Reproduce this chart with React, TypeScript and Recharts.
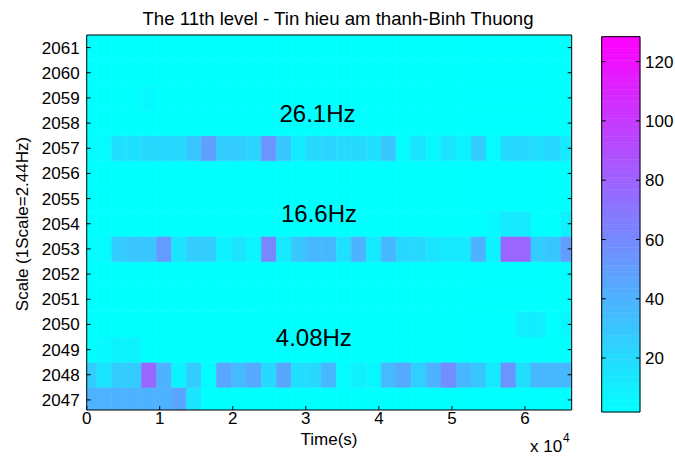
import React from 'react';
import { ComposedChart, XAxis, YAxis, ReferenceArea, ReferenceDot } from 'recharts';

const FONT = "'Liberation Sans', Arial, Helvetica, sans-serif";

// axes
const SCALES = [2047, 2048, 2049, 2050, 2051, 2052, 2053, 2054, 2055, 2056, 2057, 2058, 2059, 2060, 2061];
const X_TICKS = [0, 10000, 20000, 30000, 40000, 50000, 60000];
const C_TICKS = [20, 40, 60, 80, 100, 120];
const C_MIN = 1.8;
const C_MAX = 128.4;
const C_LEVELS = 64;
const X_MAX = 66400;
const FIRST_COL_END = 1370;
const COL_W = 2050;

// magnitude per scale row (33 time columns each)
const row2047 = [40, 40, 40, 40, 40, 40, 46, 15, 2, 2, 2, 2, 2, 2, 2, 2, 2, 2, 2, 2, 2, 2, 2, 2, 2, 2, 2, 2, 2, 2, 2, 2, 2];
const row2048 = [27, 15, 27, 27, 78, 40, 8, 27, 4, 46, 36, 44, 21, 46, 17, 21, 37, 4, 9, 6, 36, 44, 25, 40, 59, 37, 30, 12, 55, 18, 37, 37, 37];
const row2049 = [2, 5, 8, 8, 2, 2, 2, 2, 2, 2, 2, 2, 2, 2, 2, 2, 2, 2, 2, 2, 2, 2, 2, 2, 2, 2, 2, 2, 2, 2, 2, 2, 2];
const row2050 = [2, 2, 2, 2, 2, 2, 2, 2, 2, 2, 2, 2, 2, 2, 2, 2, 2, 2, 2, 2, 2, 2, 2, 2, 2, 2, 2, 2, 2, 10, 10, 2, 6];
const row2051 = [2, 2, 2, 2, 2, 2, 2, 2, 2, 2, 2, 2, 2, 2, 2, 2, 2, 2, 2, 2, 2, 2, 2, 2, 2, 2, 2, 2, 2, 2, 2, 2, 2];
const row2052 = [2, 2, 2, 2, 2, 2, 2, 2, 2, 2, 2, 2, 2, 2, 2, 2, 2, 2, 2, 2, 2, 2, 2, 2, 2, 2, 2, 2, 2, 2, 2, 2, 3];
const row2053 = [4, 4, 27, 30, 30, 52, 15, 27, 27, 8, 15, 7, 61, 12, 30, 37, 37, 17, 40, 12, 37, 21, 21, 15, 12, 12, 40, 8, 78, 78, 27, 30, 50];
const row2054 = [2, 2, 2, 2, 2, 2, 2, 2, 2, 2, 2, 2, 2, 2, 2, 2, 2, 2, 2, 2, 2, 2, 2, 2, 2, 2, 2, 5, 12, 12, 2, 2, 9];
const row2055 = [2, 2, 2, 2, 2, 2, 2, 2, 2, 2, 2, 2, 2, 2, 2, 2, 2, 2, 2, 2, 2, 2, 2, 2, 2, 2, 2, 2, 2, 2, 2, 2, 2];
const row2056 = [2, 2, 2, 2, 2, 2, 2, 2, 2, 2, 2, 2, 2, 2, 2, 2, 2, 2, 2, 2, 2, 2, 2, 2, 2, 2, 2, 2, 2, 2, 2, 2, 2];
const row2057 = [4, 4, 17, 17, 21, 21, 21, 30, 49, 27, 27, 23, 55, 30, 11, 21, 23, 21, 21, 17, 30, 4, 15, 6, 15, 8, 27, 4, 21, 21, 18, 21, 12];
const row2058 = [2, 2, 2, 2, 2, 2, 2, 2, 2, 2, 2, 2, 2, 2, 2, 2, 2, 2, 2, 2, 2, 2, 2, 2, 2, 2, 2, 2, 2, 2, 2, 2, 2];
const row2059 = [2, 2, 2, 2, 5, 2, 2, 2, 2, 2, 2, 2, 2, 2, 2, 2, 2, 2, 2, 2, 2, 2, 2, 2, 2, 2, 2, 2, 2, 2, 2, 2, 2];
const row2060 = [2, 2, 2, 2, 2, 2, 2, 2, 2, 2, 2, 2, 2, 2, 2, 2, 2, 2, 2, 2, 2, 2, 2, 2, 2, 2, 2, 2, 2, 2, 2, 2, 2];
const row2061 = [2, 2, 2, 2, 2, 2, 2, 2, 2, 2, 2, 2, 2, 2, 2, 2, 2, 2, 2, 2, 2, 2, 2, 2, 2, 2, 2, 2, 2, 2, 2, 2, 2];

const ROWS = [row2047, row2048, row2049, row2050, row2051, row2052, row2053, row2054, row2055, row2056, row2057, row2058, row2059, row2060, row2061];

// annotations
const NOTES = [
  { label: '26.1Hz', x: 31600, y: 2058.4 },
  { label: '16.6Hz', x: 31800, y: 2054.4 },
  { label: '4.08Hz', x: 31100, y: 2049.5 },
];

const cool = (v: number) => {
  const t = Math.max(0, Math.min(1, (v - C_MIN) / (C_MAX - C_MIN)));
  return `rgb(${Math.round(255 * t)},${Math.round(255 * (1 - t))},255)`;
};

const colStart = (j: number) => (j === 0 ? 0 : FIRST_COL_END + (j - 1) * COL_W);
const colEnd = (j: number) => Math.min(X_MAX, FIRST_COL_END + j * COL_W);

const cells: { x1: number; x2: number; y1: number; y2: number; fill: string; key: string }[] = [];
ROWS.forEach((row, i) => {
  const s = SCALES[i];
  row.forEach((v, j) => {
    cells.push({ x1: colStart(j), x2: colEnd(j), y1: s - 0.5, y2: s + 0.5, fill: cool(v), key: `${s}-${j}` });
  });
});

// colormap bands for the colorbar
const bands: { y1: number; y2: number; fill: string; key: string }[] = [];
for (let k = 0; k < C_LEVELS; k++) {
  const lo = C_MIN + ((C_MAX - C_MIN) * k) / C_LEVELS;
  const hi = C_MIN + ((C_MAX - C_MIN) * (k + 1)) / C_LEVELS;
  bands.push({ y1: lo, y2: hi, fill: cool((lo + hi) / 2), key: `b${k}` });
}

const tickStyle = { fontSize: 17, fill: '#000', fontFamily: FONT };
const axisLine = { stroke: '#000', strokeWidth: 1 };
const tickLine = { stroke: '#000', strokeWidth: 1 };

const abs: React.CSSProperties = { position: 'absolute', left: 0, top: 0 };

export default function App() {
  return (
    <div style={{ position: 'absolute', left: 0, top: 0, width: 675, height: 466, background: '#fff', fontFamily: FONT }}>
      <div style={abs}>
        <ComposedChart id="mainmap" width={675} height={466} margin={{ top: 34, right: 102.3, bottom: 26, left: 16.7 }} data={[]}>
          {cells.map((c) => (
            <ReferenceArea
              key={c.key}
              xAxisId="b"
              yAxisId="l"
              x1={c.x1}
              x2={c.x2}
              y1={c.y1}
              y2={c.y2}
              fill={c.fill}
              fillOpacity={1}
              stroke={c.fill}
              strokeWidth={0.6}
              ifOverflow="hidden"
            />
          ))}
          {NOTES.map((n) => (
            <ReferenceDot
              key={n.label}
              xAxisId="b"
              yAxisId="l"
              x={n.x}
              y={n.y}
              r={0}
              fill="none"
              stroke="none"
              label={{ value: n.label, position: 'center', fontSize: 24, fill: '#000', fontFamily: FONT }}
            />
          ))}
          <XAxis
            xAxisId="b"
            type="number"
            dataKey="x"
            domain={[0, X_MAX]}
            ticks={X_TICKS}
            interval={0}
            allowDataOverflow
            tickFormatter={(v: number) => String(v / 10000)}
            tick={tickStyle}
            tickSize={-4}
            tickMargin={6}
            axisLine={axisLine}
            tickLine={tickLine}
            height={30}
          />
          <XAxis
            xAxisId="t"
            orientation="top"
            type="number"
            domain={[0, X_MAX]}
            ticks={X_TICKS}
            interval={0}
            allowDataOverflow
            tickFormatter={() => ''}
            tickSize={-4}
            axisLine={axisLine}
            tickLine={tickLine}
            height={1}
          />
          <YAxis
            yAxisId="l"
            type="number"
            dataKey="y"
            domain={[2046.6, 2061.5]}
            ticks={SCALES}
            interval={0}
            allowDataOverflow
            tick={tickStyle}
            tickSize={-4}
            tickMargin={11}
            axisLine={axisLine}
            tickLine={tickLine}
            width={70}
          />
          <YAxis
            yAxisId="r"
            orientation="right"
            type="number"
            domain={[2046.6, 2061.5]}
            ticks={SCALES}
            interval={0}
            allowDataOverflow
            tickFormatter={() => ''}
            tickSize={-4}
            axisLine={axisLine}
            tickLine={tickLine}
            width={1}
          />
        </ComposedChart>
      </div>
      <div style={abs}>
        <ComposedChart id="colorbar" width={675} height={466} margin={{ top: 35.7, right: 0, bottom: 53, left: 600.7 }} data={[]}>
          {bands.map((b) => (
            <ReferenceArea
              key={b.key}
              xAxisId="c"
              yAxisId="cr"
              x1={0}
              x2={1}
              y1={b.y1}
              y2={b.y2}
              fill={b.fill}
              fillOpacity={1}
              stroke={b.fill}
              strokeWidth={0.6}
              ifOverflow="visible"
            />
          ))}
          <XAxis
            xAxisId="c"
            type="number"
            dataKey="x"
            domain={[0, 1]}
            allowDataOverflow
            tick={false}
            axisLine={{ stroke: '#000', strokeWidth: 1 }}
            tickLine={false}
            height={1}
          />
          <XAxis
            xAxisId="ct"
            orientation="top"
            type="number"
            domain={[0, 1]}
            allowDataOverflow
            tick={false}
            axisLine={{ stroke: '#000', strokeWidth: 1 }}
            tickLine={false}
            height={1}
          />
          <YAxis
            yAxisId="cr"
            orientation="right"
            type="number"
            dataKey="y"
            domain={[C_MIN, C_MAX]}
            ticks={C_TICKS}
            interval={0}
            allowDataOverflow
            tick={tickStyle}
            tickSize={-4}
            tickMargin={9}
            axisLine={axisLine}
            tickLine={tickLine}
            width={35}
          />
          <YAxis
            yAxisId="cl"
            orientation="left"
            type="number"
            domain={[C_MIN, C_MAX]}
            ticks={C_TICKS}
            interval={0}
            allowDataOverflow
            tickFormatter={() => ''}
            tickSize={-4}
            axisLine={axisLine}
            tickLine={tickLine}
            width={1}
          />
        </ComposedChart>
      </div>
      <svg width={675} height={466} style={{ ...abs, pointerEvents: 'none' }}>
        <text x={338} y={25} textAnchor="middle" fontSize={18.6} fontFamily={FONT} fill="#000">
          The 11th level - Tin hieu am thanh-Binh Thuong
        </text>
        <text x={329} y={445} textAnchor="middle" fontSize={17} fontFamily={FONT} fill="#000">
          Time(s)
        </text>
        <text x={530} y={452} fontSize={17} fontFamily={FONT} fill="#000">
          x 10
        </text>
        <text x={563} y={442} fontSize={12} fontFamily={FONT} fill="#000">
          4
        </text>
        <text
          transform="translate(28,224) rotate(-90)"
          textAnchor="middle"
          fontSize={17}
          fontFamily={FONT}
          fill="#000"
        >
          Scale (1Scale=2.44Hz)
        </text>
      </svg>
    </div>
  );
}
